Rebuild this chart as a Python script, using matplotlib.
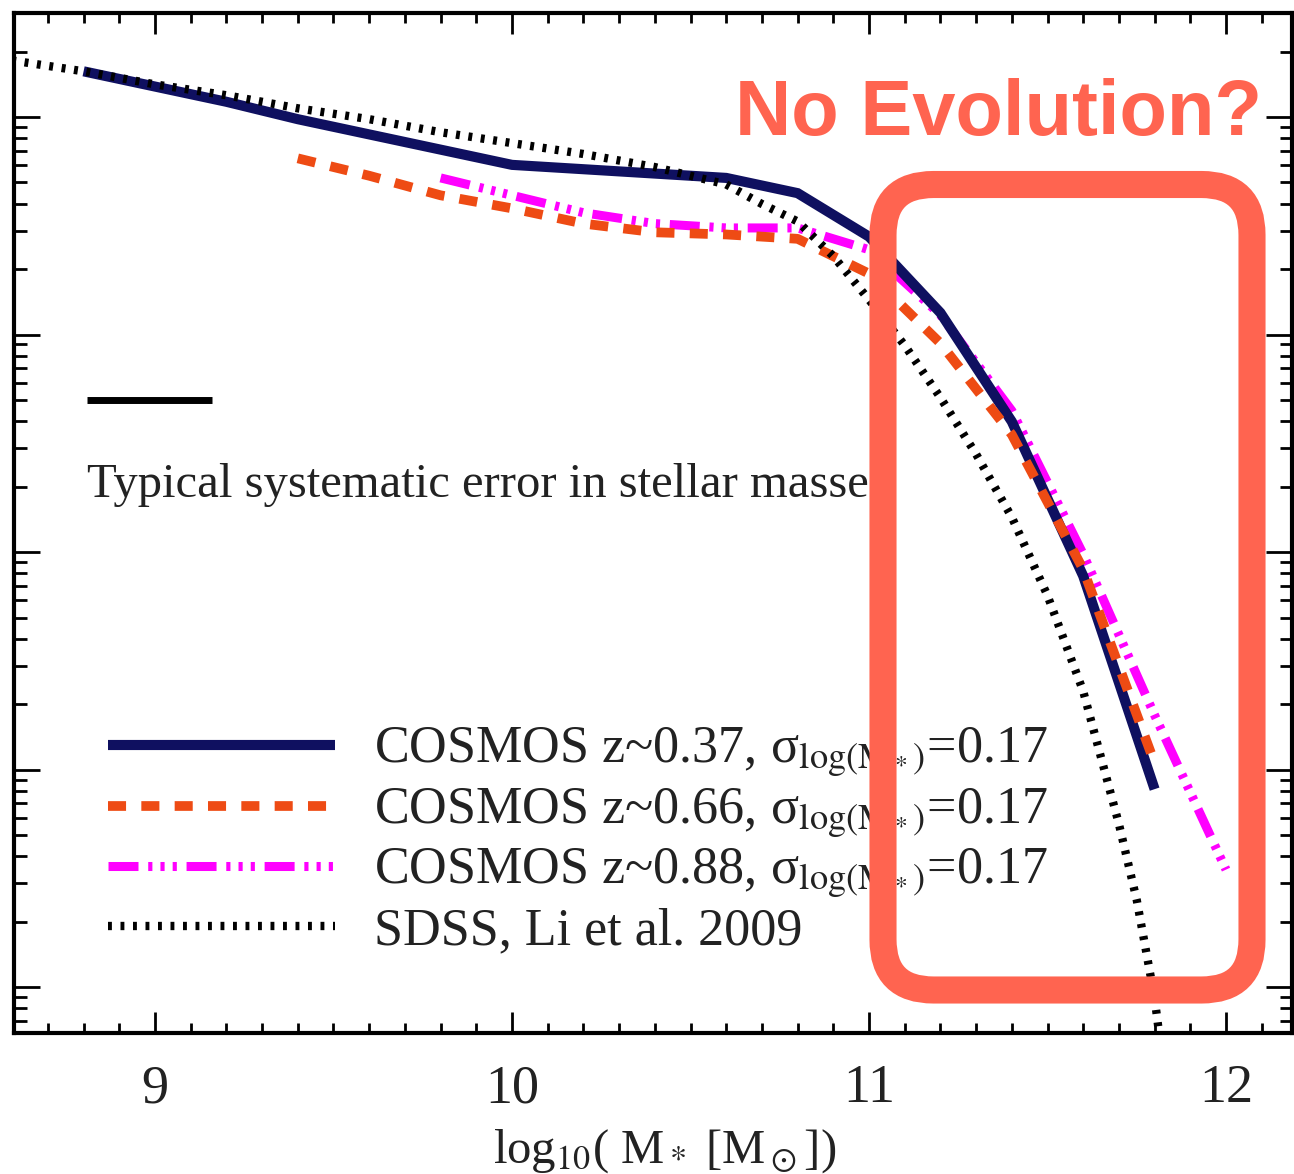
import numpy as np
import matplotlib.pyplot as plt
from matplotlib.patches import FancyBboxPatch
from matplotlib.ticker import MultipleLocator, LogLocator, NullFormatter

plt.rcParams['font.family'] = ['Liberation Serif', 'DejaVu Serif']
plt.rcParams['mathtext.fontset'] = 'stix'
plt.rcParams['lines.scale_dashes'] = False

# Stellar mass functions, log10(M*) vs log10(Phi)
mass_z037 = [8.8, 9.0, 9.2, 9.4, 9.6, 9.8, 10.0, 10.2, 10.4, 10.6, 10.8, 11.0, 11.2, 11.4, 11.6, 11.8]
lphi_z037 = [-1.79, -1.86, -1.93, -2.01, -2.08, -2.15, -2.22, -2.24, -2.26, -2.28, -2.35, -2.55, -2.90, -3.40, -4.11, -5.09]

mass_z066 = [9.4, 9.6, 9.8, 10.0, 10.2, 10.4, 10.6, 10.8, 11.0, 11.2, 11.4, 11.6, 11.8]
lphi_z066 = [-2.19, -2.27, -2.36, -2.42, -2.49, -2.53, -2.54, -2.56, -2.72, -3.04, -3.46, -4.08, -4.97]

mass_z088 = [9.8, 10.0, 10.2, 10.4, 10.6, 10.8, 11.0, 11.2, 11.4, 11.6, 11.8, 12.0]
lphi_z088 = [-2.28, -2.36, -2.44, -2.49, -2.51, -2.51, -2.61, -2.91, -3.35, -4.01, -4.75, -5.46]

mass_sdss = [8.6, 8.8, 9.0, 9.2, 9.4, 9.6, 9.8, 10.0, 10.2, 10.4, 10.6, 10.7, 10.8, 10.9,
             11.0, 11.1, 11.2, 11.3, 11.4, 11.5, 11.6, 11.7, 11.75, 11.8, 11.85]
lphi_sdss = [-1.74, -1.79, -1.85, -1.90, -1.96, -2.01, -2.07, -2.12, -2.17, -2.23, -2.31, -2.40, -2.48, -2.64,
             -2.84, -3.05, -3.29, -3.55, -3.84, -4.20, -4.64, -5.25, -5.60, -6.05, -6.70]

labels = ['COSMOS z~0.37, σ$_{\\mathrm{log(M_*)}}$=0.17',
          'COSMOS z~0.66, σ$_{\\mathrm{log(M_*)}}$=0.17',
          'COSMOS z~0.88, σ$_{\\mathrm{log(M_*)}}$=0.17',
          'SDSS, Li et al. 2009']

# systematic error bar
err_x = [8.81, 9.16]
err_lphi = -3.30

fig = plt.figure(figsize=(12.94, 11.74), dpi=100)
ax = fig.add_axes([0.0108, 0.1201, 0.9877, 0.8688])

navy = '#0f1060'
orange = '#ee4b14'
magenta = '#ff00ff'
red = '#ff6450'
ink = '#222222'

l3, = ax.plot(mass_z088, 10**np.array(lphi_z088), color=magenta, lw=6.5,
              dashes=(21.6, 7, 3, 5.8, 3, 5.8, 3, 7), dash_capstyle='butt', zorder=2)
l1, = ax.plot(mass_z037, 10**np.array(lphi_z037), color=navy, lw=7.3, solid_capstyle='butt',
              solid_joinstyle='miter', zorder=3)
l2, = ax.plot(mass_z066, 10**np.array(lphi_z066), color=orange, lw=7,
              dashes=(13, 11), dash_capstyle='butt', zorder=4)
l4, = ax.plot(mass_sdss, 10**np.array(lphi_sdss), color='black', lw=6,
              dashes=(2.8, 6.2), dash_capstyle='butt', zorder=5)

ax.plot(err_x, [10**err_lphi] * 2, color='black', lw=5, solid_capstyle='butt')
ax.text(0.0571, 0.5255, 'Typical systematic error in stellar masses', transform=ax.transAxes,
        fontsize=35, color=ink, va='baseline', ha='left')

ax.set_yscale('log')
ax.set_xlim(8.605, 12.185)
ax.set_ylim(10**-6.211, 10**-1.522)

ax.xaxis.set_major_locator(MultipleLocator(1))
ax.xaxis.set_minor_locator(MultipleLocator(0.1))
ax.yaxis.set_major_locator(LogLocator(base=10, numticks=20))
ax.yaxis.set_minor_locator(LogLocator(base=10, subs=np.arange(2, 10), numticks=20))
ax.yaxis.set_major_formatter(NullFormatter())
ax.yaxis.set_minor_formatter(NullFormatter())

ax.tick_params(axis='both', which='both', direction='in', top=True, right=True, width=2, color='black')
ax.tick_params(axis='x', which='major', length=15, labelsize=39, pad=22, labelcolor=ink)
ax.tick_params(axis='x', which='minor', length=7)
ax.tick_params(axis='y', which='major', length=19)
ax.tick_params(axis='y', which='minor', length=9)
for sp in ax.spines.values():
    sp.set_linewidth(3)

ax.set_xlabel('log$_{10}$( M$_*$ [M$_\\odot$])', fontsize=35, color=ink)
ax.xaxis.set_label_coords(0.509, -0.092)

leg = ax.legend([l1, l2, l3, l4], labels, loc='upper left', bbox_to_anchor=(0.0736, 0.301),
                frameon=False, fontsize=37.5, handlelength=4.36, handletextpad=0.75,
                labelspacing=0.12, borderpad=0, borderaxespad=0)
for t in leg.get_texts():
    t.set_color(ink)

# highlight box and caption
box = FancyBboxPatch((883 / 1294, 1 - 990 / 1174), (1252 - 883) / 1294, (990 - 184.5) / 1174,
                     boxstyle='round,pad=0,rounding_size=0.039', mutation_aspect=1294 / 1174,
                     transform=fig.transFigure, facecolor='none', edgecolor=red, lw=19.5, zorder=10)
fig.patches.append(box)
fig.text(1262 / 1294, 1 - 135 / 1174, 'No Evolution?', fontsize=56, fontweight='bold',
         family=['Liberation Sans', 'DejaVu Sans'], color=red, ha='right', va='baseline', zorder=11)

fig.savefig('out.png', dpi=100, facecolor='white')
